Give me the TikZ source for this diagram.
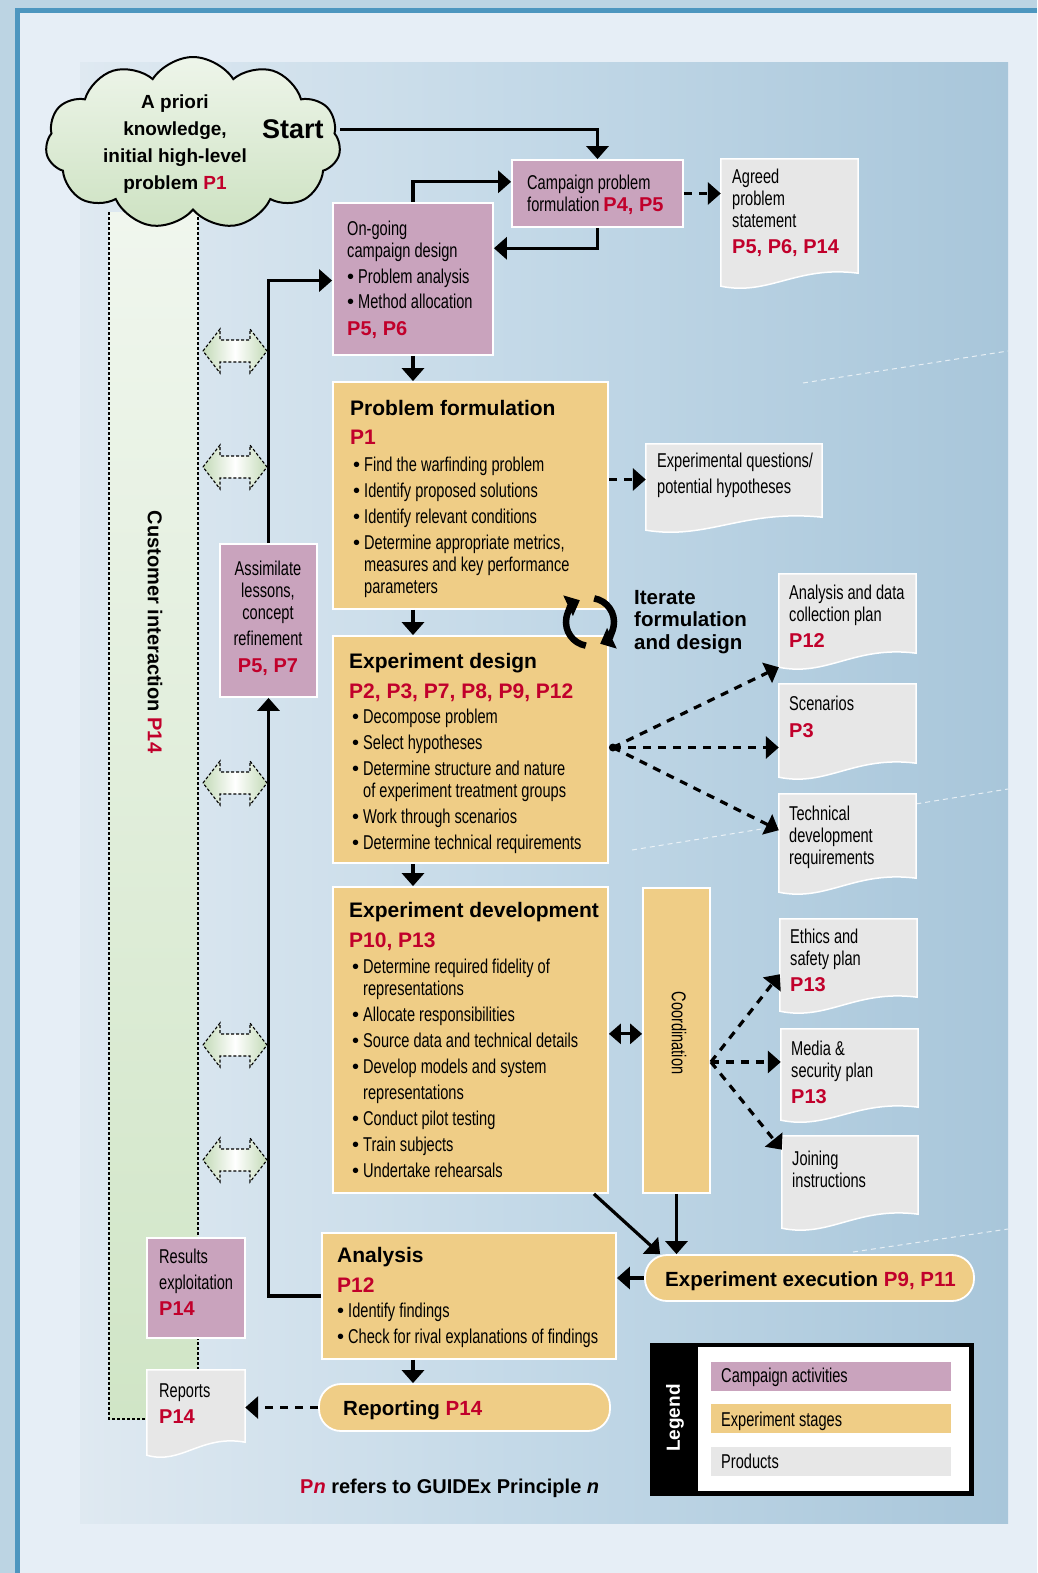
\documentclass[tikz,border=0pt]{standalone}
\usepackage{fontspec}
\setmainfont{Liberation Sans}[FakeStretch=0.73]
\newfontfamily\hb{Liberation Sans}
\usetikzlibrary{shapes.symbols, arrows.meta, calc, fit}
\definecolor{outerbg}{HTML}{BCD4E3}
\definecolor{innerbg}{HTML}{E6EEF6}
\definecolor{frameblue}{HTML}{4D96BF}
\definecolor{panelL}{HTML}{DFE9F1}
\definecolor{panelM}{HTML}{C2D8E7}
\definecolor{panelR}{HTML}{A8C6DA}
\definecolor{stripT}{HTML}{F0F6EE}
\definecolor{stripB}{HTML}{D0E5C6}
\definecolor{cloudT}{HTML}{EEF5EA}
\definecolor{cloudB}{HTML}{CDE2C2}
\definecolor{mauve}{HTML}{C9A3BD}
\definecolor{gold}{HTML}{EFCD86}
\definecolor{docgray}{HTML}{E7E7E7}
\definecolor{pred}{HTML}{C1002B}
\definecolor{dgreen}{HTML}{C3DAB7}
\newcommand\firstl{\rule{0pt}{15pt}}
\newcommand\bu{{\hb •}\hspace{4pt}}
\newcommand\bulsp{\phantom{\bu}}
\newcommand\redp[1]{{\hb\bfseries\color{pred}#1}}
\newcommand\docshape[2]{%
  \filldraw[docfill] (#1.north west) -- (#1.north east) -- ($(#1.south east)+(0,-#2)$)
   .. controls ($(#1.south east)!0.45!(#1.south west)+(0,-#2-8)$) and ($(#1.south west)!0.35!(#1.south east)+(0,10)$) .. (#1.south west) -- cycle;}
\newcommand\dblarr[1]{%
  \shadedraw[dblarrow] ($(235,#1)+(-32,0)$) -- ++(17,-22) -- ++(0,11) -- ++(30,0) -- ++(0,-11) -- ++(17,22) -- ++(-17,22) -- ++(0,-11) -- ++(-30,0) -- ++(0,11) -- cycle;}
\begin{document}
\begin{tikzpicture}[x=1pt,y=-1pt,
  campbox/.style={draw=white, line width=1.8pt, fill=mauve, inner sep=0},
  stagebox/.style={draw=white, line width=1.8pt, fill=gold, inner sep=0},
  pill/.style={stagebox, rounded corners=22pt},
  prodbox/.style={inner sep=0},
  docfill/.style={fill=docgray, draw=white, line width=1.5pt},
  txt/.style={inner sep=0, anchor=north west, align=left, font=\fontsize{20}{22}\selectfont},
  txtb/.style={inner sep=0, anchor=north west, align=left, font=\fontsize{20}{26}\selectfont},
  ttl/.style={inner sep=0, anchor=base west, font=\hb\bfseries\fontsize{21}{24}\selectfont},
  pl/.style={ttl, text=pred},
  arr/.style={line width=3.2pt, -{Triangle[width=22pt,length=13pt]}},
  darr/.style={arr, dash pattern=on 8pt off 7pt},
  dotline/.style={line width=1.4pt, dash pattern=on 2.5pt off 2.5pt},
  dblarrow/.style={left color=dgreen, right color=dgreen, middle color=white, draw=black, line width=1.1pt, dash pattern=on 3pt off 2pt},
  iterarc/.style={line width=6.5pt, -{Triangle[width=22pt,length=13pt]}},
  faint/.style={draw=white, opacity=0.7, line width=1pt, dash pattern=on 5pt off 4pt}]
\useasboundingbox (0,0) rectangle (1037,1573);
% background and frame
\fill[outerbg] (0,0) rectangle (1037,1573);
\fill[innerbg] (20,13) rectangle (1037,1573);
\fill[frameblue] (15,8) rectangle (1037,13);
\fill[frameblue] (15,8) rectangle (20,1573);
\shade[left color=panelL, right color=panelR, middle color=panelM] (80,63) rectangle (1008,1523);
\draw[faint] (803,383) -- (1008,351);
\draw[faint] (632,850) -- (1008,789);
\draw[faint] (853,1252) -- (1008,1229);
% customer interaction strip
\shade[top color=stripT, bottom color=stripB] (109,212) rectangle (198,1419);
\draw[dotline] (109,212) -- (109,1419) -- (147,1419);
\draw[dotline] (198,212) -- (198,1370);
\node[rotate=-90, inner sep=0, font=\hb\bfseries\fontsize{20}{22}\selectfont] (t-cust) at (155,632) {Customer interaction \textcolor{pred}{P14}};
\dblarr{351}
\dblarr{467}
\dblarr{783}
\dblarr{1045}
\dblarr{1160}
% cloud
\node[cloud, cloud puffs=11, cloud puff arc=115, aspect=1.7, minimum width=295pt, minimum height=172pt, inner sep=0, draw=black, line width=2pt, top color=cloudT, bottom color=cloudB] (cloud) at (193,143) {};
\node[anchor=north, align=center, inner sep=0, font=\hb\bfseries\fontsize{19}{27}\selectfont] (t-cloud) at (175,94) {\rule{0pt}{14pt}A priori\\knowledge,\\initial high-level\\problem \textcolor{pred}{P1}};
\node[inner sep=0, anchor=base west, font=\hb\bfseries\fontsize{27}{30}\selectfont] (start) at (262,139) {Start};
% campaign activity boxes
\node[campbox, fit={(512,160) (683,227)}] (camp) {};
\node[txt] (t-camp) at (527,174) {\firstl Campaign problem\\formulation \redp{P4, P5}};
\node[campbox, fit={(333,203) (493,355)}] (ongo) {};
\node[txt] (t-ongo) at (347,220) {\firstl On-going\\campaign design\\[4pt]\bu Problem analysis\\[3pt]\bu Method allocation\\[5pt]\redp{P5, P6}};
\node[campbox, fit={(220,544) (317,697)}] (assim) {};
\node[inner sep=0, anchor=north, align=center, font=\fontsize{20}{22}\selectfont] (t-assim) at (268,560) {\firstl Assimilate\\lessons,\\concept\\[4pt]refinement\\[5pt]\redp{P5, P7}};
\node[campbox, fit={(147,1238) (245,1338)}] (res) {};
\node[txtb] (t-res) at (159,1248) {\firstl Results\\exploitation\\\redp{P14}};
% experiment stages
\node[stagebox, fit={(333,382) (608,609)}] (pf) {};
\node[ttl] (t-pf) at (350,415) {Problem formulation};
\node[pl] (p-pf) at (350,444) {P1};
\node[txtb] (b-pf) at (353,456) {\firstl \bu Find the warfinding problem\\\bu Identify proposed solutions\\\bu Identify relevant conditions\\\bu Determine appropriate metrics,\\[-4pt]\bulsp measures and key performance\\[-4pt]\bulsp parameters};
\node[stagebox, fit={(333,636) (608,863)}] (ed) {};
\node[ttl] (t-ed) at (349,668) {Experiment design};
\node[pl] (p-ed) at (349,698) {P2, P3, P7, P8, P9, P12};
\node[txtb] (b-ed) at (352,708) {\firstl \bu Decompose problem\\\bu Select hypotheses\\\bu Determine structure and nature\\[-4pt]\bulsp of experiment treatment groups\\\bu Work through scenarios\\\bu Determine technical requirements};
\node[stagebox, fit={(333,887) (608,1193)}] (edev) {};
\node[ttl] (t-edev) at (349,917) {Experiment development};
\node[pl] (p-edev) at (349,947) {P10, P13};
\node[txtb] (b-edev) at (352,958) {\firstl \bu Determine required fidelity of\\[-4pt]\bulsp representations\\\bu Allocate responsibilities\\\bu Source data and technical details\\\bu Develop models and system\\\bulsp representations\\\bu Conduct pilot testing\\\bu Train subjects\\\bu Undertake rehearsals};
\node[stagebox, fit={(643,888) (710,1193)}] (coord) {};
\node[rotate=-90, inner sep=0, font=\fontsize{20}{22}\selectfont] (t-coord) at (679,1033) {Coordination};
\node[pill, fit={(645,1255) (974,1301)}] (exec) {};
\node[inner sep=0, anchor=base west, font=\hb\bfseries\fontsize{20.5}{24}\selectfont] (t-exec) at (665,1286) {Experiment execution \textcolor{pred}{P9, P11}};
\node[stagebox, fit={(322,1233) (616,1359)}] (ana) {};
\node[ttl] (t-ana) at (337,1262) {Analysis};
\node[pl] (p-ana) at (337,1292) {P12};
\node[txtb] (b-ana) at (337,1302) {\firstl \bu Identify findings\\\bu Check for rival explanations of findings};
\node[pill, fit={(319,1384) (610,1431)}] (rep) {};
\node[inner sep=0, anchor=base west, font=\hb\bfseries\fontsize{20.5}{24}\selectfont] (t-rep) at (343,1415) {Reporting \textcolor{pred}{P14}};
% products
\node[prodbox, fit={(721,159) (858,286)}] (agreed) {};
\docshape{agreed}{13}
\node[txt] (t-agreed) at (732,168) {\firstl Agreed\\problem\\statement\\[4pt]\redp{P5, P6, P14}};
\node[prodbox, fit={(646,444) (822,530)}] (eq) {};
\docshape{eq}{13}
\node[txt] (t-eq) at (657,452) {\firstl Experimental questions/\\[4pt]potential hypotheses};
\node[prodbox, fit={(779,574) (916,667)}] (adp) {};
\docshape{adp}{14}
\node[txt] (t-adp) at (789,584) {\firstl Analysis and data\\collection plan\\[4pt]\redp{P12}};
\node[prodbox, fit={(779,684) (916,777)}] (scen) {};
\docshape{scen}{14}
\node[txt] (t-scen) at (789,695) {\firstl Scenarios\\[5pt]\redp{P3}};
\node[prodbox, fit={(779,794) (916,892)}] (tech) {};
\docshape{tech}{14}
\node[txt] (t-tech) at (789,805) {\firstl Technical\\development\\requirements};
\node[prodbox, fit={(780,919) (917,1011)}] (eth) {};
\docshape{eth}{14}
\node[txt] (t-eth) at (790,928) {\firstl Ethics and\\safety plan\\[4pt]\redp{P13}};
\node[prodbox, fit={(781,1029) (918,1120)}] (med) {};
\docshape{med}{13}
\node[txt] (t-med) at (791,1040) {\firstl Media \&\\security plan\\[4pt]\redp{P13}};
\node[prodbox, fit={(782,1136) (918,1228)}] (join) {};
\docshape{join}{14}
\node[txt] (t-join) at (792,1150) {\firstl Joining\\instructions};
\node[prodbox, fit={(147,1370) (245,1455)}] (rpts) {};
\docshape{rpts}{13}
\node[txtb] (t-rpts) at (159,1382) {\firstl Reports\\\redp{P14}};
% iterate symbol
\coordinate (iter) at (590,622);
\draw[iterarc] ($(iter)+(100:24)$) arc[start angle=100, end angle=245, radius=24];
\draw[iterarc] ($(iter)+(280:24)$) arc[start angle=280, end angle=425, radius=24];
\node[inner sep=0, anchor=north west, align=left, font=\hb\bfseries\fontsize{20.5}{22.5}\selectfont] (t-iter) at (634,589) {\firstl Iterate\\formulation\\and design};
% connectors
\draw[arr] (start.east -| cloud.east) -| (camp.north);
\draw[arr] (ongo.north) |- ($(camp.north west)!0.33!(camp.south west)$);
\draw[arr] (camp.south) |- ($(ongo.north east)!0.3!(ongo.south east)$);
\draw[darr] (camp.east) -- (camp.east -| agreed.west);
\draw[arr] (ongo.south) -- (ongo.south |- pf.north);
\coordinate (pfo) at ($(pf.north east)!0.43!(pf.south east)$);
\draw[darr] (pfo) -- (pfo -| eq.west);
\draw[arr] (pf.south -| ongo.south) -- (ed.north -| ongo.south);
\coordinate (edo) at ($(ed.east)+(4,-2)$);
\fill (edo) circle[radius=4];
\draw[darr] (edo) -- (adp.south west);
\draw[darr] (edo) -- (edo -| scen.west);
\draw[darr] (edo) -- ($(tech.north west)!0.37!(tech.south west)$);
\draw[arr] (ed.south -| ongo.south) -- (edev.north -| ongo.south);
\coordinate (edvo) at ($(edev.north east)!0.48!(edev.south east)$);
\draw[line width=3.2pt, {Triangle[width=20pt,length=12pt]}-{Triangle[width=20pt,length=12pt]}] (edvo) -- (edvo -| coord.west);
\coordinate (coo) at ($(coord.north east)!0.57!(coord.south east)$);
\draw[darr] (coo) -- ($(eth.north west)!0.6!(eth.south west)$);
\draw[darr] (coo) -- (coo -| med.west);
\draw[darr] (coo) -- ($(join.north west)!0.15!(join.south west)$);
\draw[arr] ($(edev.south east)+(-15,0)$) -- ($(exec.north west)+(16,0)$);
\draw[arr] (coord.south) -- (coord.south |- exec.north);
\draw[arr] (exec.west) -- (exec.west -| ana.east);
\draw[arr] (ana.west) -| (assim.south);
\draw[arr] (assim.north) |- ($(ongo.north west)!0.51!(ongo.south west)$);
\draw[arr] (ana.south -| ongo.south) -- (rep.north -| ongo.south);
\draw[darr] (rep.west) -- (rep.west -| rpts.east);
% legend
\node[fill=black, inner sep=0, fit={(650,1343) (974,1496)}] (legend) {};
\node[fill=white, inner sep=0, fit={(698,1347) (969,1491)}] (legin) {};
\node[rotate=90, text=white, inner sep=0, font=\hb\bfseries\fontsize{19}{22}\selectfont] (t-legend) at (675,1418) {Legend};
\node[fill=mauve, inner sep=0, fit={(711,1362) (951,1391)}] (lg1) {};
\node[fill=gold, inner sep=0, fit={(711,1404) (951,1433)}] (lg2) {};
\node[fill=docgray, inner sep=0, fit={(711,1447) (951,1476)}] (lg3) {};
\node[inner sep=0, anchor=base west, font=\fontsize{20}{22}\selectfont] (t-lg1) at (721,1382) {Campaign activities};
\node[inner sep=0, anchor=base west, font=\fontsize{20}{22}\selectfont] (t-lg2) at (721,1426) {Experiment stages};
\node[inner sep=0, anchor=base west, font=\fontsize{20}{22}\selectfont] (t-lg3) at (721,1468) {Products};
% footer
\node[inner sep=0, anchor=base west, font=\hb\bfseries\fontsize{20}{24}\selectfont] (t-foot) at (300,1493) {\textcolor{pred}{P\textit{n}} refers to GUIDEx Principle \textit{n}};
\end{tikzpicture}
\end{document}
